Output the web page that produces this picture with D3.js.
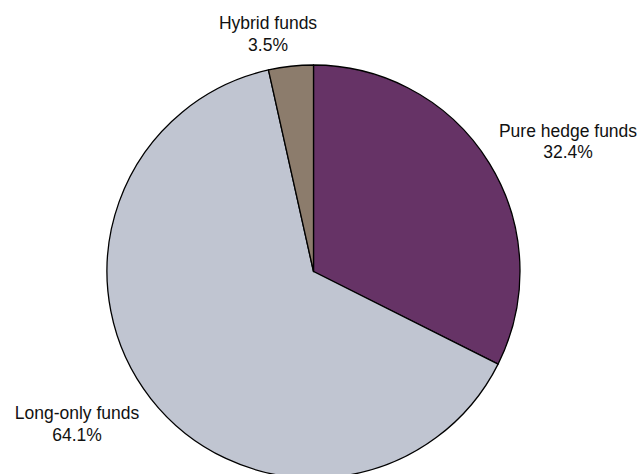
<!DOCTYPE html>
<html>
<head>
<meta charset="utf-8">
<script src="https://cdn.jsdelivr.net/npm/d3@7"></script>
<style>
  html, body { margin: 0; padding: 0; background: #ffffff; }
  svg { display: block; }
</style>
</head>
<body>
<svg id="chart" width="642" height="474"></svg>
<script>
const categories = ["Pure hedge funds", "Long-only funds", "Hybrid funds"];
const values = [32.4, 64.1, 3.5];
const valueLabels = ["32.4%", "64.1%", "3.5%"];
const colors = ["#663366", "#C0C5D1", "#8C7C6C"];

const W = 642, H = 474;
const cx = 313.5, cy = 271.5, R = 206.5;

const svg = d3.select("#chart");
const g = svg.append("g").attr("transform", `translate(${cx},${cy})`);

const data = categories.map((c, i) => ({ name: c, value: values[i], label: valueLabels[i], color: colors[i] }));

const pie = d3.pie().value(d => d.value).sort(null).startAngle(0).endAngle(2 * Math.PI);
const arc = d3.arc().innerRadius(0).outerRadius(R);
const arcs = pie(data);

g.selectAll("path.slice")
  .data(arcs)
  .enter().append("path")
  .attr("class", "slice")
  .attr("d", arc)
  .attr("fill", d => d.data.color)
  .attr("stroke", "#000")
  .attr("stroke-width", 1.3)
  .attr("stroke-linejoin", "round");

// label positions (absolute, anchored outside the slices)
const labelPos = [
  { x: 568, y: 136.7 },
  { x: 77, y: 419.3 },
  { x: 268, y: 29.3 }
];

const labels = svg.selectAll("g.lbl")
  .data(arcs)
  .enter().append("g")
  .attr("class", "lbl")
  .attr("transform", (d, i) => `translate(${labelPos[i].x},${labelPos[i].y})`);

labels.append("text")
  .attr("text-anchor", "middle")
  .attr("font-family", "Liberation Sans, Arial, sans-serif")
  .attr("font-size", 17.5)
  .attr("fill", "#111")
  .text(d => d.data.name);

labels.append("text")
  .attr("text-anchor", "middle")
  .attr("y", 21.5)
  .attr("font-family", "Liberation Sans, Arial, sans-serif")
  .attr("font-size", 17.5)
  .attr("fill", "#111")
  .text(d => d.data.label);
</script>
</body>
</html>
